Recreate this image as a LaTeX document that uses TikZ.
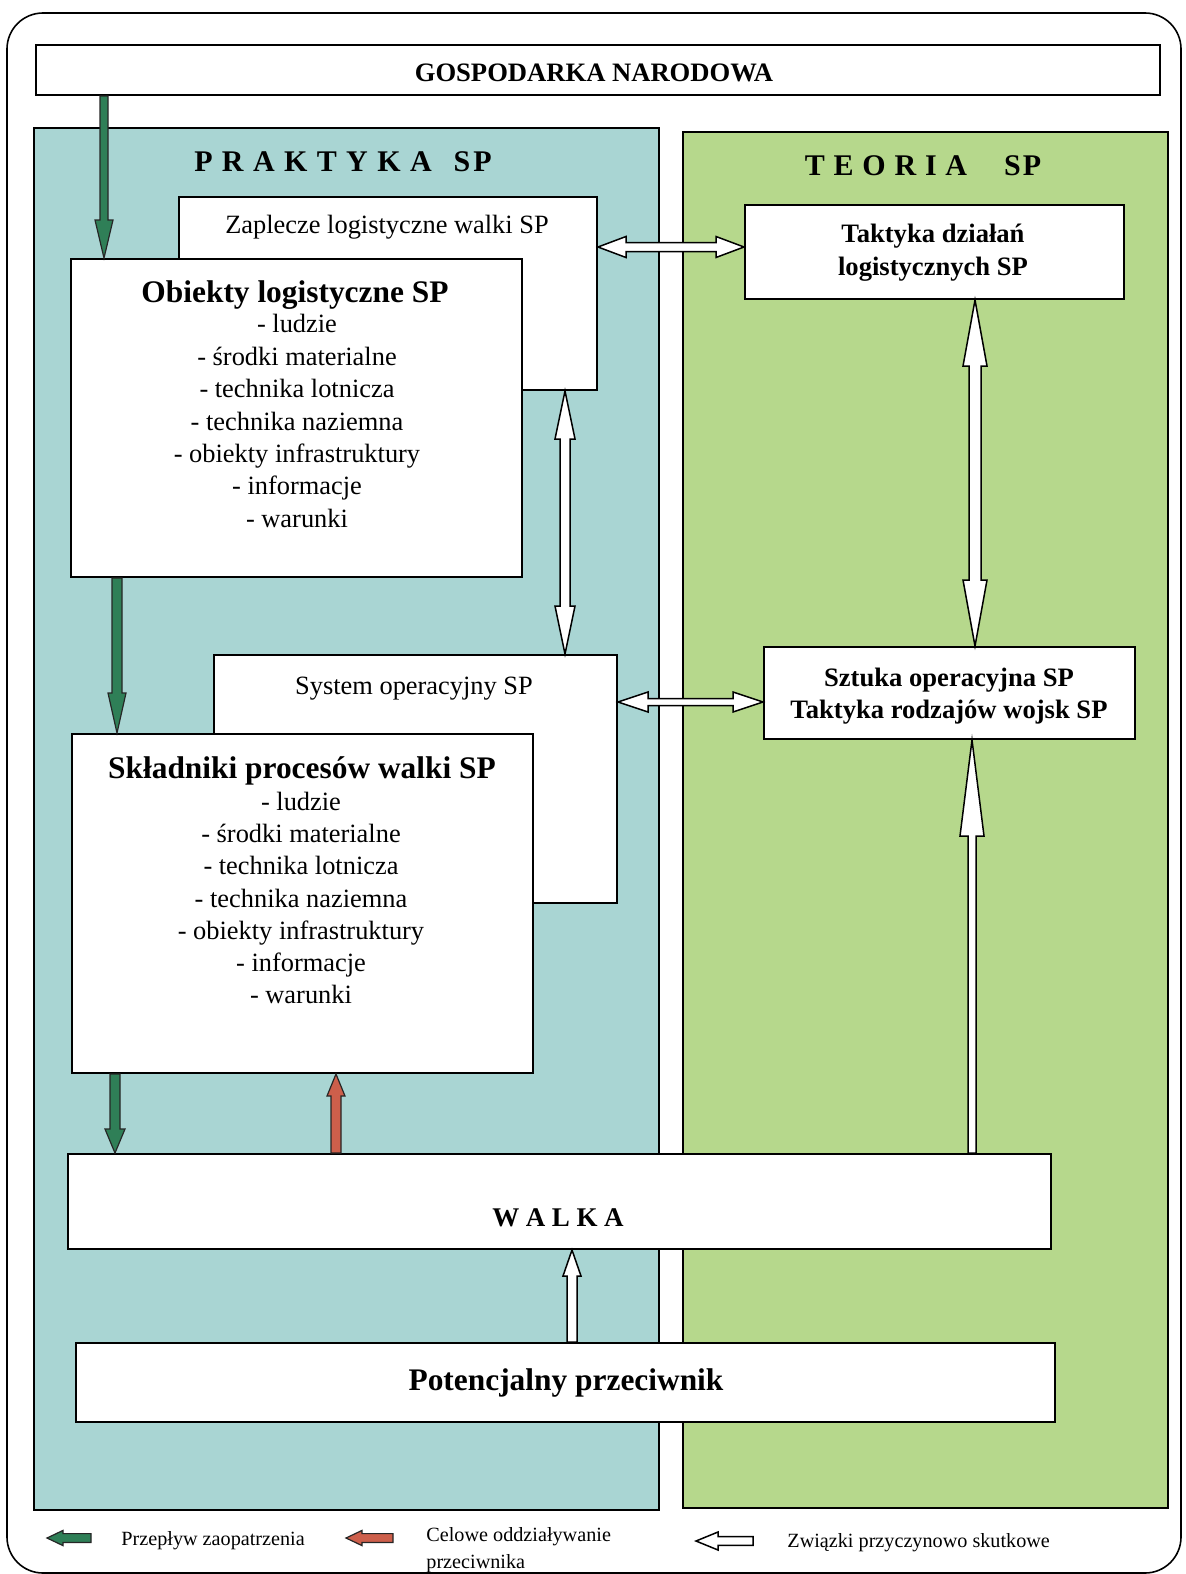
\documentclass[tikz,border=0pt]{standalone}
\usepackage{fontspec}
\setmainfont{Liberation Serif}
\usetikzlibrary{calc,fit}

\definecolor{praktyka}{HTML}{A9D5D3}
\definecolor{teoria}{HTML}{B6D88C}
\definecolor{supply}{HTML}{2F7F57}
\definecolor{enemy}{HTML}{CD5F4B}

% font sizes (1px of the layout grid = 0.5pt)
\newcommand\fnormal{\fontsize{13.2pt}{16.2pt}\selectfont}
\newcommand\fnormalb{\fontsize{13.2pt}{16.15pt}\selectfont}
\newcommand\fbig{\fontsize{15.7pt}{16pt}\selectfont\bfseries}
\newcommand\fmid{\fontsize{13.3pt}{16.5pt}\selectfont\bfseries}
\newcommand\fmidb{\fontsize{13.3pt}{16pt}\selectfont\bfseries}
\newcommand\fgosp{\fontsize{13.3pt}{16pt}\selectfont\bfseries}
\newcommand\fhead{\fontsize{15pt}{18pt}\selectfont\bfseries}
\newcommand\fwalka{\fontsize{13.5pt}{16pt}\selectfont\bfseries}
\newcommand\flegend{\fontsize{10.1pt}{13.5pt}\selectfont}

% letter-spaced words
\newlength\lsgap
\newcommand\spread[2]{\setlength\lsgap{#1}\spreadloop#2\relax}
\def\spreadloop#1{\ifx#1\relax\unkern\else #1\kern\lsgap\expandafter\spreadloop\fi}

% block arrow: #1 style, #2 start, #3 tip, #4 half shaft, #5 half head, #6 head length
\newcommand\blockarrow[6]{%
  \coordinate (baS) at (#2);
  \coordinate (baE) at (#3);
  \coordinate (baN) at ($(baE)!#6!(baS)$);
  \draw[#1] ($(baS)!#4!90:(baE)$) -- ($(baN)!#4!90:(baE)$) -- ($(baN)!#5!90:(baE)$)
    -- (baE) -- ($(baN)!#5!-90:(baE)$) -- ($(baN)!#4!-90:(baE)$)
    -- ($(baS)!#4!-90:(baE)$) -- cycle;
}
% block arrow with a head at both ends
\newcommand\dblockarrow[6]{%
  \coordinate (baS) at (#2);
  \coordinate (baE) at (#3);
  \coordinate (baA) at ($(baS)!#6!(baE)$);
  \coordinate (baB) at ($(baE)!#6!(baS)$);
  \draw[#1] (baS) -- ($(baA)!#5!90:(baE)$) -- ($(baA)!#4!90:(baE)$)
    -- ($(baB)!#4!90:(baE)$) -- ($(baB)!#5!90:(baE)$) -- (baE)
    -- ($(baB)!#5!-90:(baE)$) -- ($(baB)!#4!-90:(baE)$)
    -- ($(baA)!#4!-90:(baE)$) -- ($(baA)!#5!-90:(baE)$) -- cycle;
}

\tikzset{
  panel/.style={draw=black, line width=1pt, inner sep=0pt},
  box/.style={draw=black, line width=1pt, fill=white, inner sep=0pt},
  txt/.style={inner sep=0pt, align=center},
  supplyarrow/.style={draw=black!85, line width=0.6pt, fill=supply, line join=miter},
  enemyarrow/.style={draw=black!85, line width=0.6pt, fill=enemy, line join=miter},
  causearrow/.style={draw=black, line width=0.75pt, fill=white, line join=miter},
}

\begin{document}
\begin{tikzpicture}[x=0.5pt, y=-0.5pt]
\useasboundingbox (0,0) rectangle (1186,1574);
\fill[white] (0,0) rectangle (1186,1574);
\draw[line width=0.8pt, rounded corners=18pt] (7,13) rectangle (1181,1573);

% top level
\node[box, fit={(36,45) (1160,95)}] (gosp) {};
\node[txt, font=\fgosp] (gospT) at (594,73) {GOSPODARKA NARODOWA};

% the two columns
\node[panel, fill=praktyka, fit={(34,128) (659,1510)}] (prak) {};
\node[panel, fill=teoria, fit={(683,132) (1168,1508)}] (teor) {};
\node[txt, font=\fhead] (prakT) at (343,162) {\spread{4.7pt}{PRAKTYKA}\hspace{11pt}\spread{1.5pt}{SP}};
\node[txt, font=\fhead] (teorT) at (923,166) {\spread{4.4pt}{TEORIA}\hspace{18.5pt}\spread{1pt}{SP}};

% practice column
\node[box, fit={(179,197) (597,390)}] (zap) {};
\node[txt, font=\fnormal] (zapT) at (387,227) {Zaplecze logistyczne walki SP};
\node[box, fit={(71,259) (522,577)}] (obj) {};
\node[txt, font=\fbig] (objT) at (295,295) {Obiekty logistyczne SP};
\node[txt, font=\fnormal] (objL) at (297,421) {- ludzie\\- środki materialne\\- technika lotnicza\\- technika naziemna\\- obiekty infrastruktury\\- informacje\\- warunki};

\node[box, fit={(214,655) (617,903)}] (sys) {};
\node[txt, font=\fnormal] (sysT) at (414,689) {System operacyjny SP};
\node[box, fit={(72,734) (533,1073)}] (skl) {};
\node[txt, font=\fbig] (sklT) at (302,771) {Składniki procesów walki SP};
\node[txt, font=\fnormalb] (sklL) at (301,898) {- ludzie\\- środki materialne\\- technika lotnicza\\- technika naziemna\\- obiekty infrastruktury\\- informacje\\- warunki};

% theory column
\node[box, fit={(745,205) (1124,299)}] (tak) {};
\node[txt, font=\fmid] (takT) at (933,253) {Taktyka działań\\logistycznych SP};
\node[box, fit={(764,647) (1135,739)}] (szt) {};
\node[txt, font=\fmidb] (sztT) at (949,696) {Sztuka operacyjna SP\\Taktyka rodzajów wojsk SP};

% bottom
\node[box, fit={(68,1154) (1051,1249)}] (walka) {};
\node[txt, font=\fwalka] (walkaT) at (558,1218) {\spread{3.3pt}{WALKA}};
\node[box, fit={(76,1343) (1055,1422)}] (pot) {};
\node[txt, font=\fbig] (potT) at (566,1383) {Potencjalny przeciwnik};

% connector positions
\coordinate (xA) at (104,0);
\coordinate (xB) at (117,0);
\coordinate (xC) at (115,0);
\coordinate (xD) at (336,0);
\coordinate (xE) at (565,0);
\coordinate (xF) at (975,0);
\coordinate (xG) at (972,0);
\coordinate (xH) at (572,0);
\coordinate (yA) at (0,247);
\coordinate (yB) at (0,702);

% supply flow
\blockarrow{supplyarrow}{gosp.south -| xA}{obj.north -| xA}{2pt}{4.5pt}{19pt}
\blockarrow{supplyarrow}{obj.south -| xB}{skl.north -| xB}{2.5pt}{4.5pt}{20pt}
\blockarrow{supplyarrow}{skl.south -| xC}{walka.north -| xC}{2.5pt}{5pt}{12pt}
% enemy action
\blockarrow{enemyarrow}{walka.north -| xD}{skl.south -| xD}{2.5pt}{4.5pt}{11pt}
% cause and effect links
\dblockarrow{causearrow}{zap.east |- yA}{tak.west |- yA}{2.25pt}{5.25pt}{14pt}
\dblockarrow{causearrow}{zap.south -| xE}{sys.north -| xE}{2.5pt}{5pt}{24pt}
\dblockarrow{causearrow}{sys.east |- yB}{szt.west |- yB}{1.75pt}{5pt}{15pt}
\dblockarrow{causearrow}{tak.south -| xF}{szt.north -| xF}{3pt}{6pt}{33pt}
\blockarrow{causearrow}{walka.north -| xG}{szt.south -| xG}{2pt}{6pt}{48pt}
\blockarrow{causearrow}{pot.north -| xH}{walka.south -| xH}{2.5pt}{4.5pt}{13pt}

% legend
\coordinate (lgAs) at (91,1538);
\coordinate (lgAe) at (47,1538);
\coordinate (lgBs) at (393,1538);
\coordinate (lgBe) at (346,1538);
\coordinate (lgCs) at (753,1541);
\coordinate (lgCe) at (696,1541);
\blockarrow{supplyarrow}{lgAs}{lgAe}{2.2pt}{3.8pt}{8pt}
\blockarrow{enemyarrow}{lgBs}{lgBe}{2.2pt}{3.8pt}{8pt}
\blockarrow{causearrow}{lgCs}{lgCe}{2.2pt}{4.5pt}{11pt}
\node[txt, font=\flegend, anchor=west] (lgAT) at (121,1541) {Przepływ zaopatrzenia};
\node[txt, font=\flegend, anchor=west, align=left] (lgBT) at (426,1550) {Celowe oddziaływanie\\przeciwnika};
\node[txt, font=\flegend, anchor=west] (lgCT) at (787,1543) {Związki przyczynowo skutkowe};
\end{tikzpicture}
\end{document}
